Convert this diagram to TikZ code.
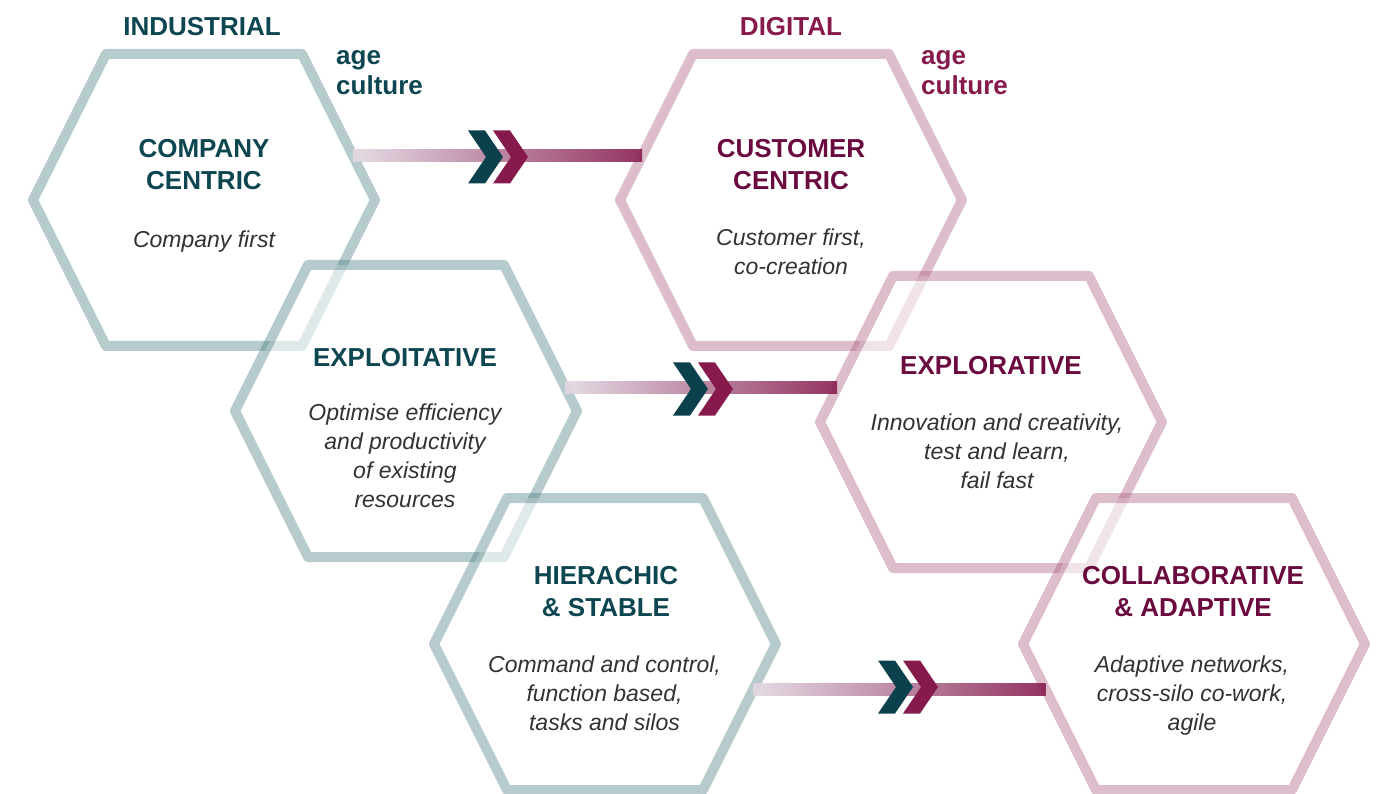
\documentclass[tikz,border=0pt]{standalone}
\usepackage{fontspec}
\setmainfont{Liberation Sans}
\usetikzlibrary{calc}
\definecolor{tealS}{RGB}{75,125,130}
\definecolor{pinkS}{RGB}{170,92,127}
\definecolor{tealD}{RGB}{13,70,80}
\definecolor{pinkD}{RGB}{106,10,62}
\definecolor{pinkH}{RGB}{134,26,76}
\definecolor{chevT}{RGB}{10,65,77}
\definecolor{chevM}{RGB}{134,26,77}
\definecolor{barL}{RGB}{226,216,226}
\definecolor{barR}{RGB}{136,30,80}
\definecolor{descc}{RGB}{50,50,50}
\newcommand\myhex[4]{%
  \draw[#4] (#2-171,#3) -- ++(73,-146) -- ++(196,0) -- ++(73,146) -- ++(-73,146) -- ++(-196,0) -- cycle;
  \coordinate (#1) at (#2,#3);
}
\tikzset{
  hexT/.style={draw=tealS, draw opacity=0.4, fill=white, fill opacity=0.58, line width=10pt, line join=round},
  hexP/.style={draw=pinkS, draw opacity=0.4, fill=white, fill opacity=0.58, line width=10pt, line join=round},
  ttl/.style={font=\bfseries\fontsize{26}{32}\selectfont, align=center, inner sep=0pt,
    execute at begin node=\strut, execute at end node=\strut},
  agettl/.style={font=\bfseries\fontsize{26}{30}\selectfont, align=left, inner sep=0pt, anchor=west,
    execute at begin node=\strut, execute at end node=\strut},
  dsc/.style={font=\itshape\fontsize{23}{28.7}\selectfont, text=descc, align=center, inner sep=0pt,
    execute at begin node=\strut, execute at end node=\strut},
  barfill/.style={left color=barL, right color=barR, fill opacity=0.9},
  chev/.pic={\path[pic actions] (0,-26.5) -- (17,-26.5) -- (35,0) -- (17,26.5) -- (0,26.5) -- (18,0) -- cycle;},
}
\begin{document}
\begin{tikzpicture}[x=1pt,y=-1pt]
\useasboundingbox (0,0) rectangle (1382,794);
% hexagons
\myhex{h1}{204}{200}{hexT}
\myhex{h2}{406}{411}{hexT}
\myhex{h3}{605}{644}{hexT}
\myhex{h4}{791}{200}{hexP}
\myhex{h5}{991}{422}{hexP}
\myhex{h6}{1194}{644}{hexP}
% bar end points on the hexagon edges
\coordinate (b1s) at ($(h1)+(149,-44)$);
\coordinate (b1e) at ($(h4)+(-149,-44)$);
\coordinate (b2s) at ($(h2)+(159,-23.5)$);
\coordinate (b2e) at ($(h5)+(-154,-34.5)$);
\coordinate (b3s) at ($(h3)+(148.5,45)$);
\coordinate (b3e) at ($(h6)+(-148.5,45)$);
\shade[barfill] ($(b1s)+(0,-6)$) rectangle ($(b1e)+(0,6)$);
\shade[barfill] ($(b2s)+(0,-6)$) rectangle ($(b2e)+(0,6)$);
\shade[barfill] ($(b3s)+(0,-6)$) rectangle ($(b3e)+(0,6)$);
% chevrons
\pic[fill=chevT] (c1t) at (468,157) {chev};
\pic[fill=chevM] (c1m) at (493,157) {chev};
\pic[fill=chevT] (c2t) at (673,389) {chev};
\pic[fill=chevM] (c2m) at (698,389) {chev};
\pic[fill=chevT] (c3t) at (878,687) {chev};
\pic[fill=chevM] (c3m) at (903,687) {chev};
% headings
\node[ttl, text=tealD] (ind) at (202,29.5) {INDUSTRIAL};
\node[agettl, text=tealD] (indage) at (336,77) {age\\culture};
\node[ttl, text=pinkH] (dig) at (791,29.5) {DIGITAL};
\node[agettl, text=pinkH] (digage) at (921,77) {age\\culture};
% hexagon texts
\node[ttl, text=tealD] (t1) at (204,169) {COMPANY\\CENTRIC};
\node[dsc] (d1) at (204,241.5) {Company first};
\node[ttl, text=tealD] (t2) at (405,360) {EXPLOITATIVE};
\node[dsc] (d2) at (405,460) {Optimise efficiency\\and productivity\\of existing\\resources};
\node[ttl, text=tealD] (t3) at (606,596.5) {HIERACHIC\\\& STABLE};
\node[dsc] (d3) at (604.5,697.3) {Command and control,\\function based,\\tasks and silos};
\node[ttl, text=pinkD] (t4) at (791,169) {CUSTOMER\\CENTRIC};
\node[dsc] (d4) at (791,256.3) {Customer first,\\co-creation};
\node[ttl, text=pinkD] (t5) at (991,368) {EXPLORATIVE};
\node[dsc] (d5) at (997,455.3) {Innovation and creativity,\\test and learn,\\fail fast};
\node[ttl, text=pinkD] (t6) at (1193,596.5) {COLLABORATIVE\\\& ADAPTIVE};
\node[dsc] (d6) at (1192,697.3) {Adaptive networks,\\cross-silo co-work,\\agile};
\end{tikzpicture}
\end{document}
